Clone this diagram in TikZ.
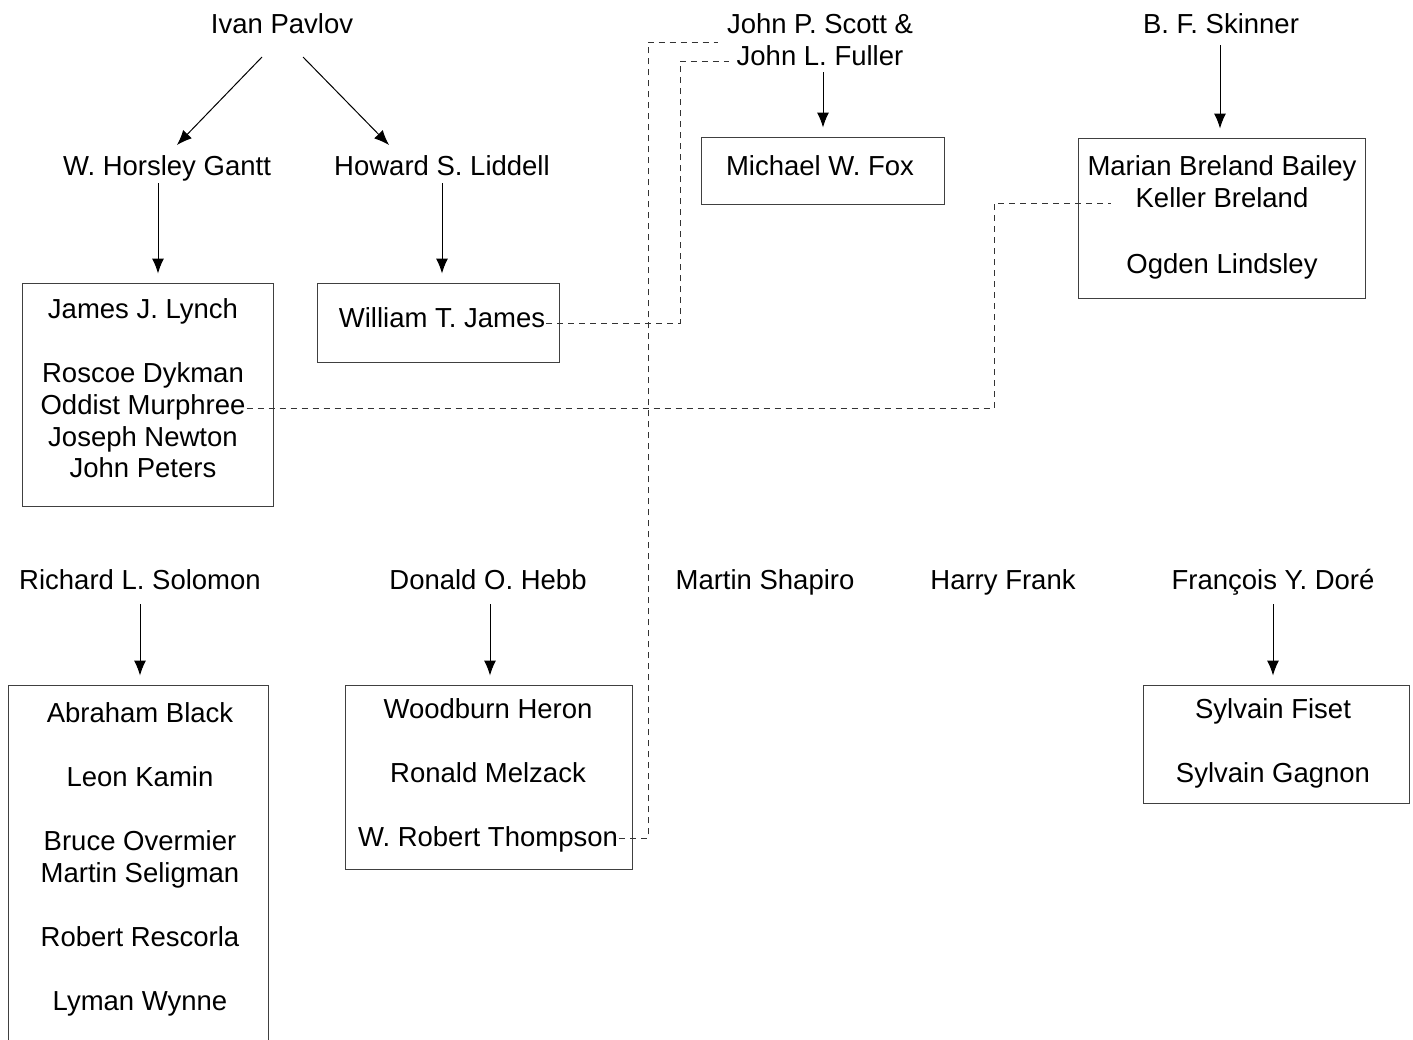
\documentclass[tikz,border=0pt]{standalone}
\usepackage{fontspec}
\setmainfont{Liberation Sans}
\usetikzlibrary{arrows.meta,calc}
\begin{document}
\begin{tikzpicture}[x=1pt,y=-1pt,
  lbl/.style={inner sep=0pt,anchor=base,font=\fontsize{27.5}{32}\selectfont,text height=19pt,text depth=6pt},
  boxnode/.style={draw=black!75,line width=1pt,inner sep=0pt,rectangle},
  arr/.style={draw=black,line width=1pt,-{Latex[length=15pt,width=12pt]}},
  varr/.style={arr,shorten >=9pt},
  dashline/.style={draw=black!80,line width=1pt,dash pattern=on 6pt off 5pt}]
\useasboundingbox[fill=white] (0,0) rectangle (1413,1039);

% boxes
\node[boxnode,minimum width=251pt,minimum height=223pt] (lynchbox) at (147.5,394.5) {};
\node[boxnode,minimum width=242pt,minimum height=79pt] (jamesbox) at (438,322.5) {};
\node[boxnode,minimum width=243pt,minimum height=67pt] (foxbox) at (822.5,170.5) {};
\node[boxnode,minimum width=287pt,minimum height=160pt] (skinnerbox) at (1221.5,218) {};
\node[boxnode,minimum width=260pt,minimum height=380pt] (solomonbox) at (138,875) {};
\node[boxnode,minimum width=287pt,minimum height=184pt] (hebbbox) at (488.5,777) {};
\node[boxnode,minimum width=266pt,minimum height=118pt] (dorebox) at (1276,744) {};

% top labels
\node[lbl] (pavlov) at (282,33) {Ivan Pavlov};
\node[lbl] (gantt) at (167,175) {W. Horsley Gantt};
\node[lbl] (liddell) at (442,175) {Howard S. Liddell};
\node[lbl] (scott) at (820,33) {John P. Scott \&};
\node[lbl] (fuller) at (820,65) {John L. Fuller};
\node[lbl] (skinner) at (1221,33) {B. F. Skinner};

% box texts
\node[lbl] (lynch) at (143,318) {James J. Lynch};
\node[lbl] (dykman) at (143,382) {Roscoe Dykman};
\node[lbl] (murphree) at (143,414) {Oddist Murphree};
\node[lbl] (newton) at (143,446) {Joseph Newton};
\node[lbl] (peters) at (143,477) {John Peters};
\node[lbl] (william) at (442,327) {William T. James};
\node[lbl] (fox) at (820,175) {Michael W. Fox};
\node[lbl] (marian) at (1222,175) {Marian Breland Bailey};
\node[lbl] (keller) at (1222,207) {Keller Breland};
\node[lbl] (ogden) at (1222,273) {Ogden Lindsley};

% lower labels
\node[lbl] (solomon) at (140,589) {Richard L. Solomon};
\node[lbl] (hebb) at (488,589) {Donald O. Hebb};
\node[lbl] (shapiro) at (765,589) {Martin Shapiro};
\node[lbl] (frank) at (1003,589) {Harry Frank};
\node[lbl] (dore) at (1273,589) {François Y. Doré};

\node[lbl] (black) at (140,722) {Abraham Black};
\node[lbl] (kamin) at (140,786) {Leon Kamin};
\node[lbl] (overmier) at (140,850) {Bruce Overmier};
\node[lbl] (seligman) at (140,882) {Martin Seligman};
\node[lbl] (rescorla) at (140,946) {Robert Rescorla};
\node[lbl] (wynne) at (140,1010) {Lyman Wynne};
\node[lbl] (heron) at (488,718) {Woodburn Heron};
\node[lbl] (melzack) at (488,782) {Ronald Melzack};
\node[lbl] (thompson) at (488,846) {W. Robert Thompson};
\node[lbl] (fiset) at (1273,718) {Sylvain Fiset};
\node[lbl] (gagnon) at (1273,782) {Sylvain Gagnon};

% arrow start points
\coordinate (pl) at (262,57);
\coordinate (pr) at (303,57);
\coordinate (plt) at (177,145);
\coordinate (prt) at (389,145);
\coordinate (ga) at ($(gantt.south)+(-9,2)$);
\coordinate (li) at ($(liddell.south)+(0,2)$);
\coordinate (fu) at ($(fuller.south)+(3,1)$);
\coordinate (sk) at ($(skinner.south)+(-1,6)$);
\coordinate (so) at ($(solomon.south)+(0,9)$);
\coordinate (he) at ($(hebb.south)+(2,9)$);
\coordinate (do) at ($(dore.south)+(0,9)$);

% arrows
\draw[arr] (pl) -- (plt);
\draw[arr] (pr) -- (prt);
\draw[varr] (ga) -- (ga |- lynchbox.north);
\draw[varr] (li) -- (li |- jamesbox.north);
\draw[varr] (fu) -- (fu |- foxbox.north);
\draw[varr] (sk) -- (sk |- skinnerbox.north);
\draw[varr] (so) -- (so |- solomonbox.north);
\draw[varr] (he) -- (he |- hebbbox.north);
\draw[varr] (do) -- (do |- dorebox.north);

% dashed links
\coordinate (j1) at (680,61);
\coordinate (j2) at (648,42);
\coordinate (j3) at (994,203);
\coordinate (w1) at ($(william.east)+(1,3)$);
\coordinate (t1) at ($(thompson.east)+(1,-1)$);
\coordinate (m1) at ($(murphree.east)+(1,1)$);
\coordinate (f1) at ($(fuller.west |- j1)+(-8,0)$);
\coordinate (s1) at ($(scott.west |- j2)+(-9,0)$);
\coordinate (k1) at ($(keller.west |- j3)+(-24,0)$);
\draw[dashline] (w1) -| (j1) -- (f1);
\draw[dashline] (t1) -| (j2) -- (s1);
\draw[dashline] (m1) -| (j3) -- (k1);
\end{tikzpicture}
\end{document}
